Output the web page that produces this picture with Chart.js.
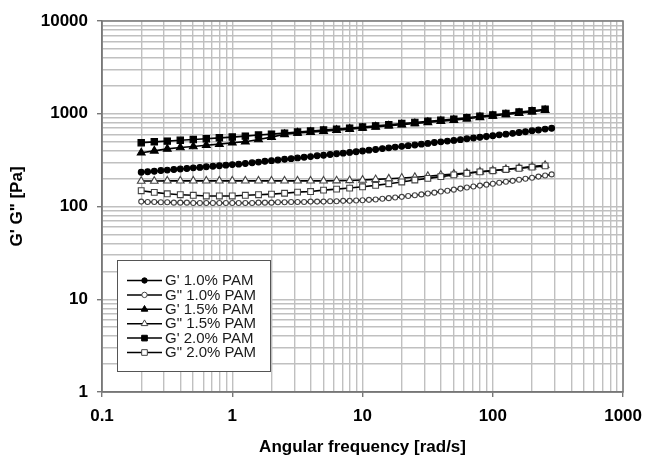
<!DOCTYPE html>
<html><head><meta charset="utf-8">
<script src="https://cdn.jsdelivr.net/npm/chart.js@4"></script>
<style>html,body{margin:0;padding:0;background:#fff}</style>
</head><body>
<canvas id="c" width="651" height="457"></canvas>
<script>
// Angular frequency values [rad/s]
const freq20 = [0.2, 0.224, 0.252, 0.283, 0.317, 0.356, 0.399, 0.448, 0.502, 0.564, 0.632, 0.710, 0.796, 0.893, 1.0, 1.12, 1.26, 1.42, 1.59, 1.78, 2.0, 2.24, 2.52, 2.83, 3.17, 3.56, 3.99, 4.48, 5.02, 5.64, 6.32, 7.10, 7.96, 8.93, 10.0, 11.2, 12.6, 14.2, 15.9, 17.8, 20.0, 22.4, 25.2, 28.3, 31.7, 35.6, 39.9, 44.8, 50.2, 56.4, 63.2, 71.0, 79.6, 89.3, 100, 112, 126, 142, 159, 178, 200, 224, 252, 283];
const freq10 = [0.2, 0.252, 0.317, 0.399, 0.502, 0.632, 0.796, 1.0, 1.26, 1.59, 2.0, 2.52, 3.17, 3.99, 5.02, 6.32, 7.96, 10.0, 12.6, 15.9, 20.0, 25.2, 31.7, 39.9, 50.2, 63.2, 79.6, 100, 126, 159, 200, 252];

// Moduli [Pa]
const gp10 = [234,237,240,244,247,251,254,257,261,264, 268,272,275,279,283,286,291,296,301,307, 312,317,323,328,334,340,345,352,357,364, 370,376,383,390,397,405,412,421,429,437, 445,453,461,470,479,489,498,507,516,526, 537,547,557,569,579,592,603,615,627,640, 655,669,683,697];
const gpp10 = [113,112,112,111,111,110,110,110,109,109, 109,109,109,109,109,109,109,109,110,110, 110,111,111,112, 112,112,113,113,113,114,114,115,115,116, 117,118,119,121,123,125,127,130,132,135, 138,141,145,148,152,156,160,164,168,172, 176,180,185,189,194,199,204,210,216,222];
const gp15 = [380,398,418,432,443,458,470,487,500,528, 560,600,622,634,650,665,683,701,722,741, 763,785,807,830,853,883,915,947,982,1016, 1052,1089];
const gpp15 = [188,188,189,189,189,189,189,189,189,189, 189,189,189,189,189,190,191,193,196,199, 203,207,212,218,224,230,237,244,252,260, 269,279];
const gp20 = [488,498,507,518,527,538,550,560,574,589, 603,618,634,650,667,682,700,719,740,760, 783,805,828,851,875,906,938,971,1007,1042, 1079,1117];
const gpp20 = [148,142,137,134,132,130,130,130,132,134, 136,139,143,145,150,154,158,163,169,176, 184,193,201,210,219,228,236,243,251,258, 266,274];

const seriesLabels = ["G' 1.0% PAM", 'G" 1.0% PAM', "G' 1.5% PAM", 'G" 1.5% PAM', "G' 2.0% PAM", 'G" 2.0% PAM'];

const xTickValues = [0.1, 1, 10, 100, 1000];
const xTickLabels = ['0.1', '1', '10', '100', '1000'];
const yTickValues = [1, 10, 100, 1000, 10000];
const yTickLabels = ['1', '10', '100', '1000', '10000'];

function gridValues(decades) {
  const out = [];
  for (let d = 0; d < decades.length - 1; d++) {
    for (let m = 1; m <= 9; m++) out.push(decades[d] * m);
  }
  out.push(decades[decades.length - 1]);
  return out;
}
const xGrid = gridValues(xTickValues);
const yGrid = gridValues(yTickValues);

function isMajorVal(v, majors) { return majors.some(m => Math.abs(v - m) / m < 1e-6); }
function labelFor(v, vals, labels) {
  const i = vals.findIndex(m => Math.abs(v - m) / m < 1e-6);
  return i >= 0 ? labels[i] : '';
}

const pts = (xs, ys) => ys.map((y, i) => ({x: xs[i], y: y}));

const styles = [
  {shape: 'circle', r: 2.9, fill: '#000', stroke: '#000', lr: 2.7},
  {shape: 'circle', r: 2.5, fill: '#fff', stroke: '#444', lr: 2.7},
  {shape: 'triangle', r: 4.5, fill: '#000', stroke: '#000', lr: 3.8},
  {shape: 'triangle', r: 4.4, fill: '#fff', stroke: '#444', lr: 3.8},
  {shape: 'rect', r: 4.5, fill: '#000', stroke: '#000', lr: 4.0},
  {shape: 'rect', r: 4.1, fill: '#fff', stroke: '#444', lr: 4.0}
];
const xs = [freq20, freq20, freq10, freq10, freq10, freq10];
const ys = [gp10, gpp10, gp15, gpp15, gp20, gpp20];

const datasets = seriesLabels.map((lab, i) => ({
  label: lab,
  data: pts(xs[i], ys[i]),
  showLine: true,
  borderColor: '#000',
  borderWidth: 1.6,
  pointStyle: styles[i].shape,
  pointRadius: styles[i].r,
  pointBackgroundColor: styles[i].fill,
  pointBorderColor: styles[i].stroke,
  pointBorderWidth: 1.1,
  tension: 0,
  order: 5 - i
}));

function drawMarker(ctx, shape, x, y, r, fill, stroke) {
  ctx.beginPath();
  if (shape === 'circle') {
    ctx.arc(x, y, r, 0, Math.PI * 2);
  } else if (shape === 'rect') {
    const s = r * Math.SQRT1_2;
    ctx.rect(x - s, y - s, 2 * s, 2 * s);
  } else {
    let a = 0;
    ctx.moveTo(x + Math.sin(a) * r, y - Math.cos(a) * r);
    a += Math.PI * 2 / 3;
    ctx.lineTo(x + Math.sin(a) * r, y - Math.cos(a) * r);
    a += Math.PI * 2 / 3;
    ctx.lineTo(x + Math.sin(a) * r, y - Math.cos(a) * r);
    ctx.closePath();
  }
  ctx.fillStyle = fill; ctx.fill();
  ctx.strokeStyle = stroke; ctx.lineWidth = 1; ctx.stroke();
}

const frameAndLegend = {
  id: 'frameAndLegend',
  beforeDatasetsDraw(chart) {
    const a = chart.chartArea, ctx = chart.ctx;
    ctx.save();
    ctx.strokeStyle = '#777';
    ctx.lineWidth = 1.4;
    ctx.strokeRect(a.left, a.top, a.right - a.left, a.bottom - a.top);
    ctx.restore();
  },
  afterDatasetsDraw(chart) {
    const a = chart.chartArea, ctx = chart.ctx;
    const x0 = a.left + 15, y0 = a.top + 239, w = 153, h = 111;
    ctx.save();
    ctx.fillStyle = '#fff';
    ctx.fillRect(x0, y0, w, h);
    ctx.strokeStyle = '#555';
    ctx.lineWidth = 1;
    ctx.strokeRect(x0 + 0.5, y0 + 0.5, w, h);
    ctx.font = "15px 'Liberation Sans', Arial, sans-serif";
    ctx.textBaseline = 'middle';
    chart.data.datasets.forEach((ds, i) => {
      const yy = y0 + 20.5 + i * 14.4;
      ctx.beginPath();
      ctx.moveTo(x0 + 10, yy);
      ctx.lineTo(x0 + 45, yy);
      ctx.strokeStyle = '#000';
      ctx.lineWidth = 1.5;
      ctx.stroke();
      drawMarker(ctx, styles[i].shape, x0 + 27.5, yy, styles[i].lr, styles[i].fill, styles[i].stroke);
      ctx.fillStyle = '#1a1a1a';
      ctx.fillText(ds.label, x0 + 48, yy + 0.5);
    });
    ctx.restore();
  }
};

const FONT = "'Liberation Sans', Arial, sans-serif";

new Chart(document.getElementById('c'), {
  type: 'scatter',
  data: {datasets: datasets},
  options: {
    responsive: false,
    animation: false,
    events: [],
    layout: {padding: {left: 0, right: 21, top: 21, bottom: 0}},
    plugins: {legend: {display: false}, tooltip: {enabled: false}},
    scales: {
      x: {
        type: 'logarithmic', position: 'bottom', min: 0.1, max: 1000,
        afterBuildTicks: s => { s.ticks = xGrid.map(v => ({value: v})); },
        afterFit: s => { s.height = 65; },
        ticks: {
          autoSkip: false, maxRotation: 0, minRotation: 0, padding: 9, color: '#000',
          font: {family: FONT, size: 17, weight: 'bold'},
          callback: v => labelFor(v, xTickValues, xTickLabels)
        },
        grid: {
          color: '#c0c0c0', lineWidth: 1.4, tickLength: 5,
          tickColor: ctx => (ctx.tick && isMajorVal(ctx.tick.value, xTickValues)) ? '#777' : 'rgba(0,0,0,0)'
        },
        border: {color: '#777', width: 1.4},
        title: {display: true, text: 'Angular frequency [rad/s]', color: '#000',
          font: {family: FONT, size: 17, weight: 'bold', lineHeight: 1}, padding: {top: 0, bottom: 1}}
      },
      y: {
        type: 'logarithmic', position: 'left', min: 1, max: 10000,
        afterBuildTicks: s => { s.ticks = yGrid.map(v => ({value: v})); },
        afterFit: s => { s.width = 102; },
        ticks: {
          autoSkip: false, padding: 9, color: '#000',
          font: {family: FONT, size: 17, weight: 'bold'},
          callback: v => labelFor(v, yTickValues, yTickLabels)
        },
        grid: {
          color: '#c0c0c0', lineWidth: 1.4, tickLength: 5,
          tickColor: ctx => (ctx.tick && isMajorVal(ctx.tick.value, yTickValues)) ? '#777' : 'rgba(0,0,0,0)'
        },
        border: {color: '#777', width: 1.4},
        title: {display: true, text: 'G\' G" [Pa]', color: '#000',
          font: {family: FONT, size: 17, weight: 'bold', lineHeight: 1}, padding: {top: 9, bottom: 0}}
      }
    }
  },
  plugins: [frameAndLegend]
});
</script>
</body></html>
